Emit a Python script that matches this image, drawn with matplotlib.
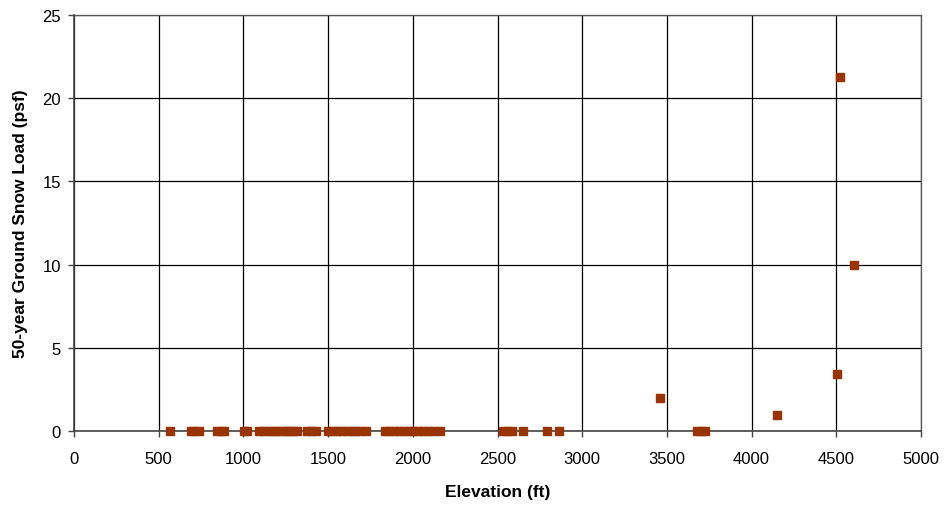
import matplotlib
matplotlib.use("Agg")
import matplotlib.pyplot as plt

plt.rcParams['font.family'] = ['Liberation Sans', 'DejaVu Sans']

# Station elevations (ft) and 50-year ground snow loads (psf)
elevation = [
    564, 688, 710, 735, 847, 870, 888, 1006, 1024,
    1095, 1120, 1150, 1175, 1200, 1225, 1250, 1270, 1295, 1319,
    1378, 1400, 1426,
    1502, 1530, 1555, 1580, 1610, 1640, 1660, 1690, 1721,
    1833, 1860, 1890, 1920, 1950, 1975, 2000, 2030, 2060, 2090, 2120, 2158,
    2530, 2555, 2588, 2648, 2792, 2863,
    3459, 3678, 3700, 3725, 4150, 4506, 4522, 4606,
]
snow_load = [
    0, 0, 0, 0, 0, 0, 0, 0, 0,
    0, 0, 0, 0, 0, 0, 0, 0, 0, 0,
    0, 0, 0,
    0, 0, 0, 0, 0, 0, 0, 0, 0,
    0, 0, 0, 0, 0, 0, 0, 0, 0, 0, 0, 0,
    0, 0, 0, 0, 0, 0,
    2.0, 0, 0, 0, 0.95, 3.4, 21.3, 9.95,
]

x_ticks = [0, 500, 1000, 1500, 2000, 2500, 3000, 3500, 4000, 4500, 5000]
y_ticks = [0, 5, 10, 15, 20, 25]

fig = plt.figure(figsize=(9.48, 5.06), dpi=100)
ax = fig.add_axes([74 / 948, (506 - 432) / 506, 847 / 948, 416 / 506])

ax.plot(elevation, snow_load, linestyle='none', marker='s', markersize=6,
        color='#993300', markeredgecolor='#993300', zorder=3, clip_on=False)

ax.set_xlim(0, 5000)
ax.set_ylim(0, 25)
ax.set_xticks(x_ticks)
ax.set_yticks(y_ticks)
ax.tick_params(axis='both', direction='out', length=4.5, width=1, colors='#444444',
               labelsize=12, labelcolor='black')
ax.tick_params(axis='x', pad=10)
ax.tick_params(axis='y', pad=5)
ax.grid(True, color='black', linewidth=0.9)
ax.set_axisbelow(True)

for side in ['left', 'bottom']:
    ax.spines[side].set_color('#444444')
    ax.spines[side].set_linewidth(1.2)
for side in ['top', 'right']:
    ax.spines[side].set_color('#555555')
    ax.spines[side].set_linewidth(0.9)

ax.set_xlabel('Elevation (ft)', fontsize=12.5, fontweight='bold', labelpad=13)
ax.set_ylabel('50-year Ground Snow Load (psf)', fontsize=12.5, fontweight='bold', labelpad=10)

fig.savefig('out.png', dpi=100, facecolor='white')
